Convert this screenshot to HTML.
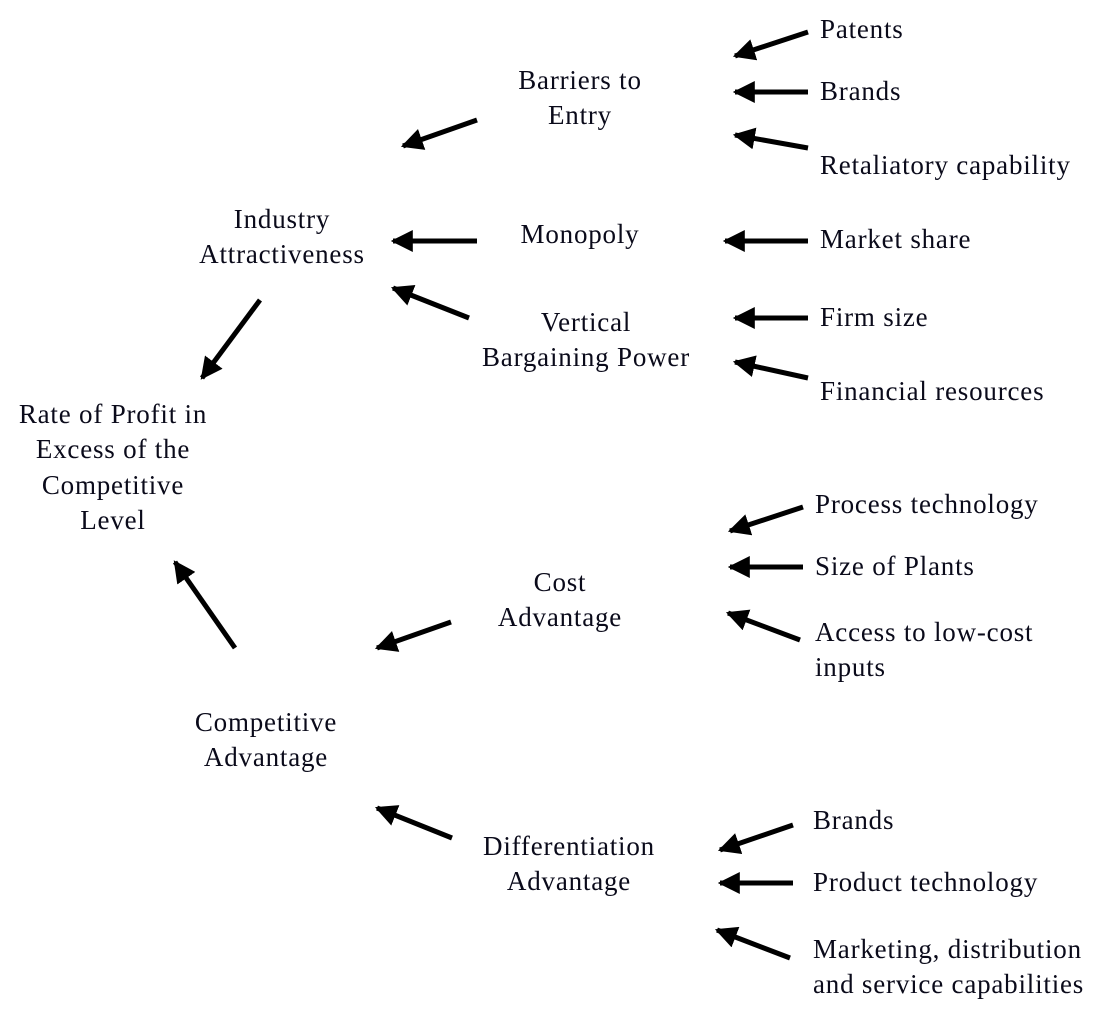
<!DOCTYPE html>
<html><head><meta charset="utf-8"><style>
html,body{margin:0;padding:0;background:#fff}
svg{display:block}
text{font-family:"Liberation Serif",serif;font-size:27px;letter-spacing:0.8px;fill:#0a0a1a}
.c{text-anchor:middle}
line{stroke:#000;stroke-width:5}
</style></head><body>
<svg width="1109" height="1019" viewBox="0 0 1109 1019">
<defs>
<marker id="h" viewBox="0 0 10 10" markerWidth="4.4" markerHeight="4.4" refX="9" refY="5" orient="auto"><path d="M0,0 L10,5 L0,10 Z" fill="#000"/></marker></defs>
<g marker-end="url(#h)">
<line x1="808" y1="32" x2="735" y2="56"/>
<line x1="808" y1="92" x2="735" y2="92"/>
<line x1="808" y1="148" x2="735" y2="135"/>
<line x1="477" y1="120" x2="403" y2="146"/>
<line x1="477" y1="241" x2="393" y2="241"/>
<line x1="469" y1="318" x2="393" y2="288"/>
<line x1="808" y1="241" x2="725" y2="241"/>
<line x1="808" y1="318" x2="735" y2="318"/>
<line x1="808" y1="378" x2="735" y2="362"/>
<line x1="260" y1="300" x2="202" y2="378"/>
<line x1="235" y1="648" x2="175" y2="562"/>
<line x1="451" y1="622" x2="377" y2="648"/>
<line x1="803" y1="507" x2="730" y2="531"/>
<line x1="803" y1="567" x2="730" y2="567"/>
<line x1="800" y1="640" x2="728" y2="613"/>
<line x1="452" y1="838" x2="377" y2="808"/>
<line x1="793" y1="825" x2="720" y2="850"/>
<line x1="793" y1="883" x2="720" y2="883"/>
<line x1="790" y1="958" x2="717" y2="930"/>
</g>
<text class="c" x="580" y="89">Barriers to</text><text class="c" x="580" y="124">Entry</text>
<text class="c" x="282" y="228">Industry</text><text class="c" x="282" y="263">Attractiveness</text>
<text class="c" x="580" y="243">Monopoly</text>
<text class="c" x="586" y="331">Vertical</text><text class="c" x="586" y="366">Bargaining Power</text>
<text class="c" x="113" y="423">Rate of Profit in</text><text class="c" x="113" y="458">Excess of the</text><text class="c" x="113" y="494">Competitive</text><text class="c" x="113" y="529">Level</text>
<text class="c" x="560" y="591">Cost</text><text class="c" x="560" y="626">Advantage</text>
<text class="c" x="266" y="731">Competitive</text><text class="c" x="266" y="766">Advantage</text>
<text class="c" x="569" y="855">Differentiation</text><text class="c" x="569" y="890">Advantage</text>
<text x="820" y="38">Patents</text>
<text x="820" y="100">Brands</text>
<text x="820" y="174">Retaliatory capability</text>
<text x="820" y="248">Market share</text>
<text x="820" y="326">Firm size</text>
<text x="820" y="400">Financial resources</text>
<text x="815" y="513">Process technology</text>
<text x="815" y="575">Size of Plants</text>
<text x="815" y="641">Access to low-cost</text>
<text x="815" y="676">inputs</text>
<text x="813" y="829">Brands</text>
<text x="813" y="891">Product technology</text>
<text x="813" y="958">Marketing, distribution</text>
<text x="813" y="993">and service capabilities</text>
</svg>
</body></html>
